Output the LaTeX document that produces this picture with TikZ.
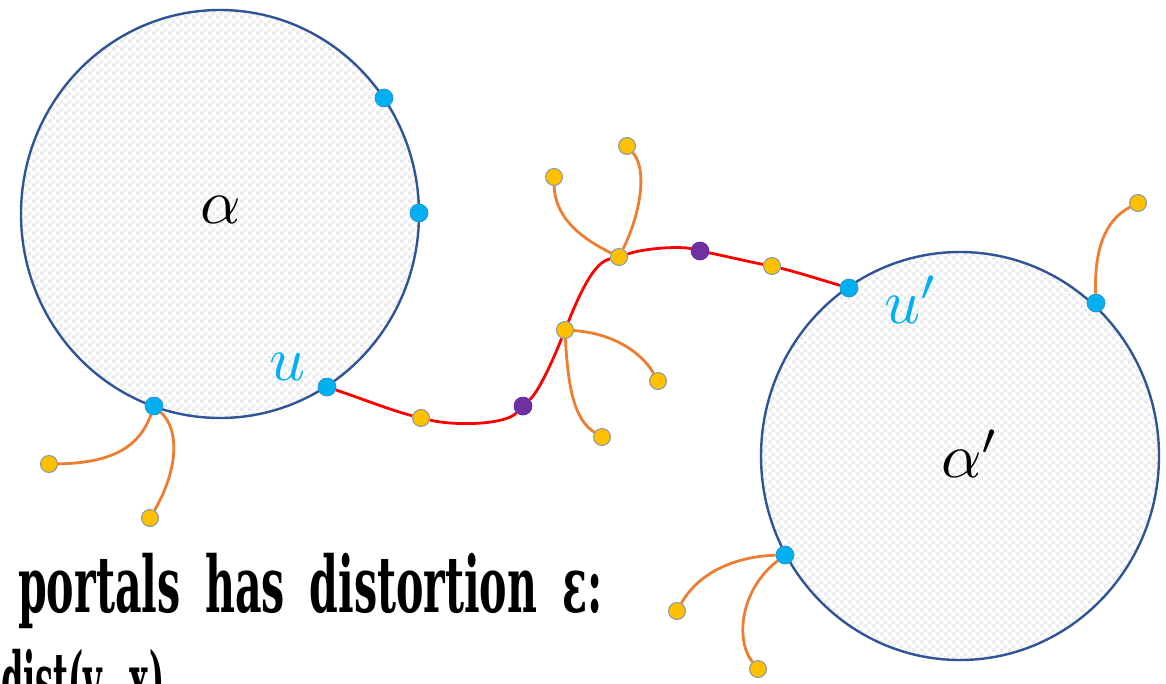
\documentclass[tikz,border=0pt]{standalone}
\usepackage{fontspec}
\usepackage{graphicx}
\newfontfamily\slab{DejaVu Serif}
\usetikzlibrary{patterns}
\pgfdeclarepatternformonly{mychecker}{\pgfpointorigin}{\pgfqpoint{8pt}{8pt}}{\pgfqpoint{8pt}{8pt}}{%
  \pgfpathrectangle{\pgfpointorigin}{\pgfqpoint{4pt}{4pt}}%
  \pgfpathrectangle{\pgfqpoint{4pt}{4pt}}{\pgfqpoint{4pt}{4pt}}%
  \pgfusepath{fill}}
\definecolor{rim}{HTML}{2F5597}
\definecolor{portal}{HTML}{00B0F0}
\definecolor{portaledge}{HTML}{2E8FC8}
\definecolor{gold}{HTML}{FFC000}
\definecolor{goldedge}{HTML}{8497B0}
\definecolor{violet}{HTML}{7030A0}
\definecolor{branch}{HTML}{ED7D31}
\definecolor{pathred}{HTML}{FF0000}
\pgfdeclarelayer{bg}
\pgfsetlayers{bg,main}
\tikzset{
  region/.style={draw=rim, line width=2.4pt},
  bdot/.style={circle, inner sep=0pt, minimum size=18pt, fill=portal, draw=portaledge, line width=0.7pt},
  ydot/.style={circle, inner sep=0pt, minimum size=17pt, fill=gold, draw=goldedge, line width=1pt},
  pdot/.style={circle, inner sep=0pt, minimum size=18pt, fill=violet, draw=violet!80!blue, line width=0.7pt},
  redline/.style={draw=pathred, line width=2.8pt},
  orline/.style={draw=branch, line width=2.8pt},
  lbl/.style={anchor=base west, inner sep=0pt},
}
\newcommand{\biglbl}[1]{\scalebox{6.3}{$#1$}}
\newcommand{\captxt}[1]{{\slab\bfseries\fontsize{78}{78}\selectfont\spaceskip=0.6em\relax #1}}
\begin{document}
\begin{tikzpicture}[x=1pt,y=-1pt]
\useasboundingbox (0,0) rectangle (1166,683);
\clip (0,0) rectangle (1166,683);

% dots on the circles (portals)
\node[bdot] (p1a) at (384,98) {};
\node[bdot] (p1b) at (419,213) {};
\node[bdot] (u) at (327,387) {};
\node[bdot] (p1d) at (154,406) {};
\node[bdot] (up) at (849,288) {};
\node[bdot] (p2b) at (1096,303) {};
\node[bdot] (p2c) at (785,555) {};

% path nodes
\node[ydot] (y1) at (421,418) {};
\node[pdot] (v1) at (523,406) {};
\node[ydot] (y2) at (565,330) {};
\node[ydot] (y3) at (619,257) {};
\node[pdot] (v2) at (700,251) {};
\node[ydot] (y4) at (772,266) {};

% leaves
\node[ydot] (l1) at (49,464) {};
\node[ydot] (l2) at (150,518) {};
\node[ydot] (l3) at (658,381) {};
\node[ydot] (l4) at (602,437) {};
\node[ydot] (l5) at (554,177) {};
\node[ydot] (l6) at (627,146) {};
\node[ydot] (l7) at (1138,203) {};
\node[ydot] (l8) at (677,611) {};
\node[ydot] (l9) at (758,669) {};

\begin{pgfonlayer}{bg}
  \fill[white] (220,214) ellipse [x radius=199, y radius=204];
  \fill[pattern=mychecker, pattern color=black!8] (220,214) ellipse [x radius=199, y radius=204];
  \draw[region] (220,214) ellipse [x radius=199, y radius=204];
  \fill[white] (960,456) ellipse [x radius=199, y radius=204];
  \fill[pattern=mychecker, pattern color=black!8] (960,456) ellipse [x radius=199, y radius=204];
  \draw[region] (960,456) ellipse [x radius=199, y radius=204];

  \draw[redline] (u) .. controls (360,398) and (390,410) .. (y1);
  \draw[redline] (y1) .. controls (455,426) and (505,425) .. (v1);
  \draw[redline] (v1) .. controls (540,390) and (555,355) .. (y2);
  \draw[redline] (y2) .. controls (582,288) and (595,262) .. (y3);
  \draw[redline] (y3) .. controls (645,248) and (680,246) .. (v2);
  \draw[redline] (v2) .. controls (725,256) and (750,262) .. (y4);
  \draw[redline] (y4) .. controls (800,273) and (825,281) .. (up);

  \draw[orline] (p1d) .. controls (140,445) and (115,463) .. (l1);
  \draw[orline] (p1d) .. controls (180,430) and (178,470) .. (l2);
  \draw[orline] (y2) .. controls (610,333) and (640,350) .. (l3);
  \draw[orline] (y2) .. controls (568,390) and (575,420) .. (l4);
  \draw[orline] (y3) .. controls (585,240) and (555,220) .. (l5);
  \draw[orline] (y3) .. controls (640,215) and (648,170) .. (l6);
  \draw[orline] (p2b) .. controls (1094,250) and (1105,220) .. (l7);
  \draw[orline] (p2c) .. controls (740,556) and (700,570) .. (l8);
  \draw[orline] (p2c) .. controls (740,590) and (735,640) .. (l9);
\end{pgfonlayer}

% labels
\node[lbl, text=portal] (lu) at (269,380) {\biglbl{u}};
\node[lbl, text=portal] (lup) at (884,323) {\biglbl{u'}};
\node[lbl] (la) at (200,223) {\biglbl{\alpha}};
\node[lbl] (lap) at (941,477) {\biglbl{\alpha'}};

% caption text
\node[anchor=base west, inner sep=0pt] (t1) at (18,612)
  {\resizebox{584pt}{\height}{\captxt{portals has distortion ε:}}};
\node[anchor=base west, inner sep=0pt] (t2) at (1,708)
  {\resizebox{163pt}{\height}{\captxt{dist(v, x)}}};
\end{tikzpicture}
\end{document}
